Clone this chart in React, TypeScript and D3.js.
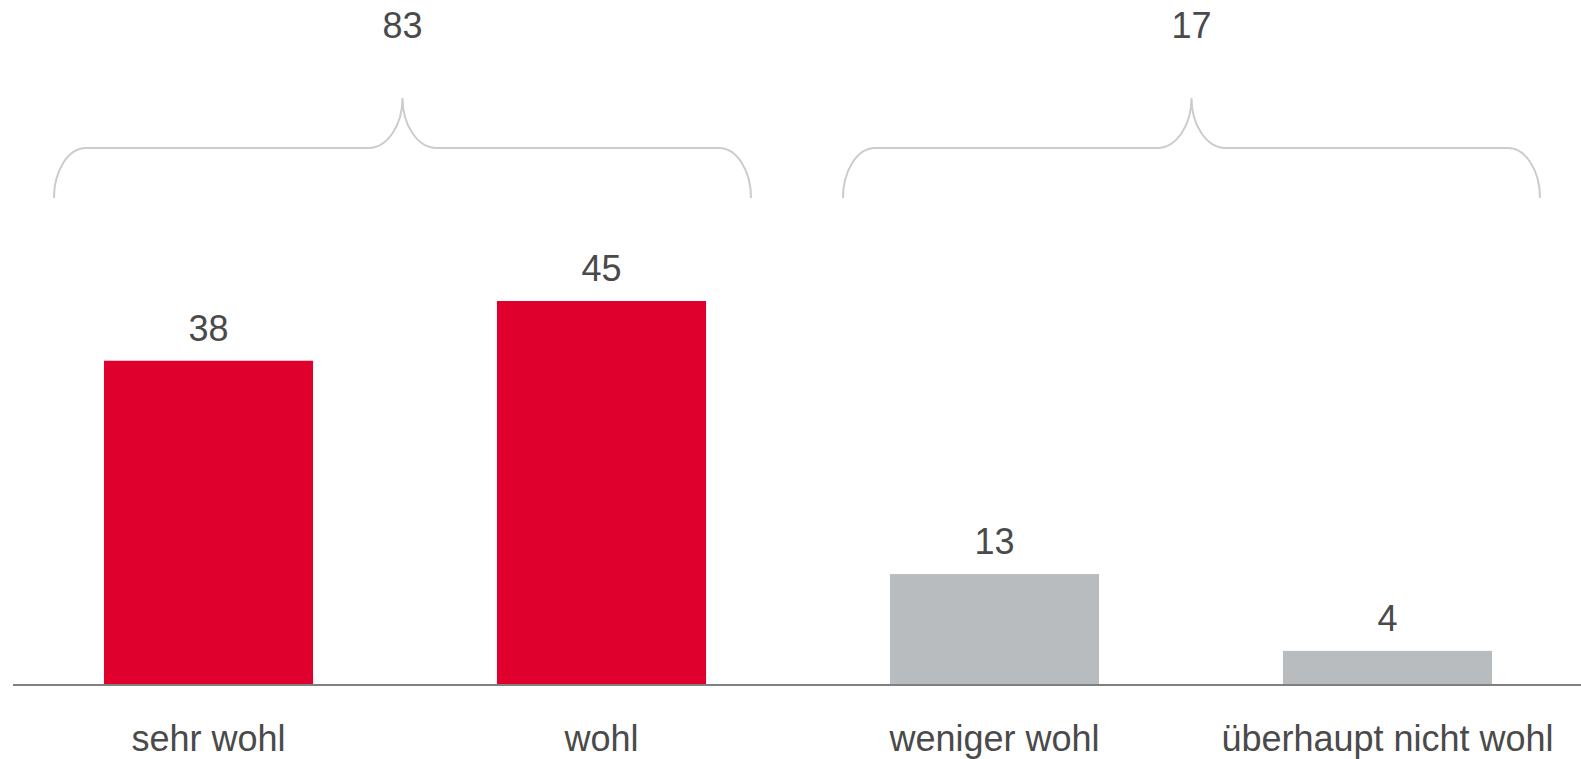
import React from "react";
import * as d3 from "d3";

const categories = ["sehr wohl", "wohl", "weniger wohl", "überhaupt nicht wohl"];
const values = [38, 45, 13, 4];
const barColors = ["#E0002D", "#E0002D", "#B8BCBF", "#B8BCBF"];
const groupLabels = ["83", "17"];
const groupMembers = [
  ["sehr wohl", "wohl"],
  ["weniger wohl", "überhaupt nicht wohl"],
];

const W = 1581;
const H = 759;
const FONT = "'Liberation Sans', Arial, Helvetica, sans-serif";
const TEXT = "#4A4A4A";

export default function App() {
  const x = d3
    .scaleBand<string>()
    .domain(categories)
    .range([12, 1584])
    .paddingInner(0.468)
    .paddingOuter(0.234);
  const y = d3.scaleLinear().domain([0, 45]).range([685, 301]);
  const bw = x.bandwidth();

  const bracketPath = (L: number, R: number) => {
    const C = (L + R) / 2;
    const yb = 198;
    const yh = 148;
    const yt = 98;
    const rx = 32;
    const cx = 34;
    const k = 0.55;
    const p = d3.path();
    p.moveTo(L, yb);
    p.bezierCurveTo(L, yb - (yb - yh) * k, L + rx - rx * k, yh, L + rx, yh);
    p.lineTo(C - cx, yh);
    p.bezierCurveTo(C - cx + cx * k, yh, C, yt + (yh - yt) * k, C, yt);
    p.bezierCurveTo(C, yt + (yh - yt) * k, C + cx - cx * k, yh, C + cx, yh);
    p.lineTo(R - rx, yh);
    p.bezierCurveTo(R - rx + rx * k, yh, R, yb - (yb - yh) * k, R, yb);
    return p.toString();
  };

  return (
    <svg
      width={W}
      height={H}
      style={{ position: "absolute", left: 0, top: 0, background: "#fff" }}
      fontFamily={FONT}
    >
      {groupMembers.map((g, i) => {
        const L = (x(g[0]) as number) - 50 + 3 * i;
        const R = (x(g[g.length - 1]) as number) + bw + 45 + 3 * i;
        const C = (L + R) / 2;
        return (
          <g key={i}>
            <path d={bracketPath(L, R)} fill="none" stroke="#CCCCCC" strokeWidth={2} />
            <text x={C} y={38} textAnchor="middle" fontSize={36} fill={TEXT}>
              {groupLabels[i]}
            </text>
          </g>
        );
      })}
      {categories.map((c, i) => {
        const x0 = x(c) as number;
        return (
          <g key={c}>
            <rect x={x0} y={y(values[i])} width={bw} height={y(0) - y(values[i])} fill={barColors[i]} />
            <text x={x0 + bw / 2} y={y(values[i]) - 20} textAnchor="middle" fontSize={36} fill={TEXT}>
              {values[i]}
            </text>
            <text x={x0 + bw / 2} y={751} textAnchor="middle" fontSize={36} fill={TEXT}>
              {c}
            </text>
          </g>
        );
      })}
      <line x1={13} x2={W} y1={y(0)} y2={y(0)} stroke="#808080" strokeWidth={2} />
    </svg>
  );
}
